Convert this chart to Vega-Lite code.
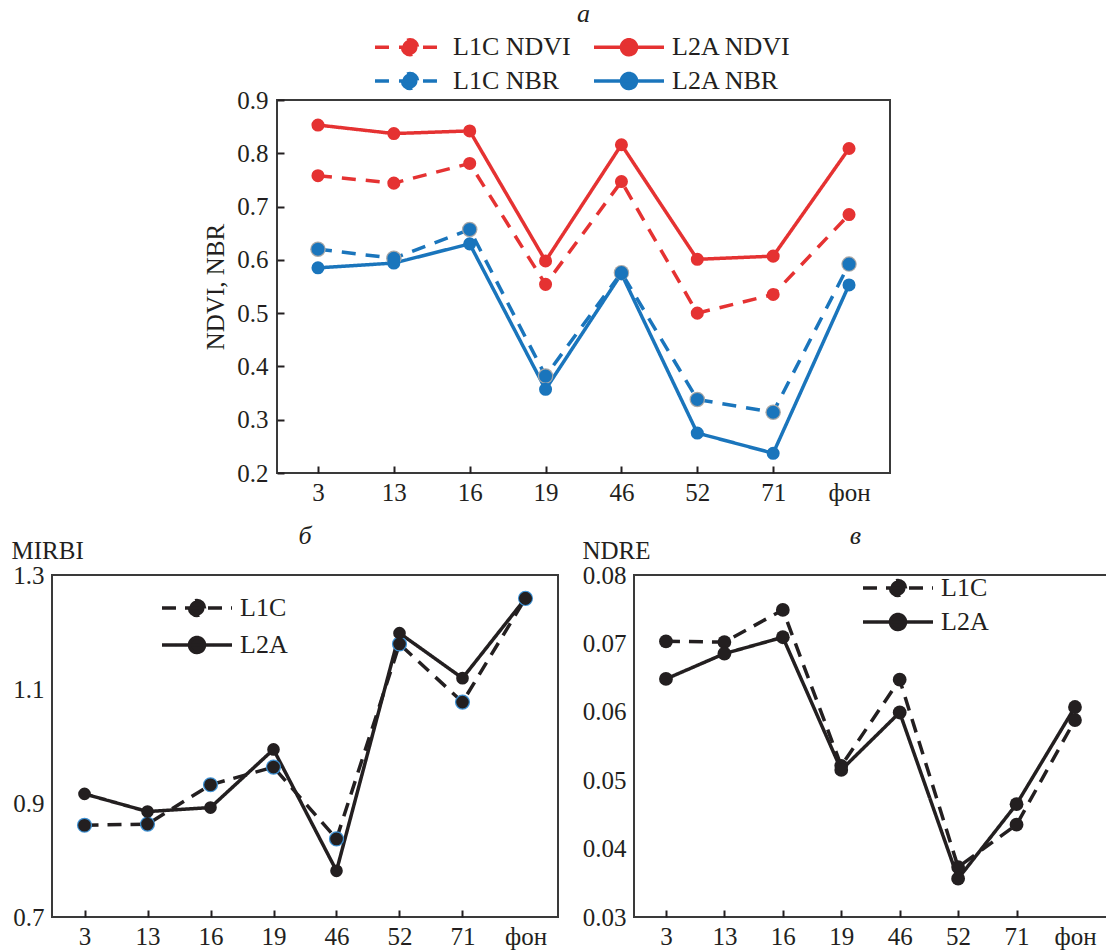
{
  "$schema": "https://vega.github.io/schema/vega-lite/v6.json",
  "padding": {"left": 10, "top": 0, "right": 0, "bottom": 0},
  "background": "white",
  "center": true,
  "spacing": 16,
  "resolve": {
    "scale": {"stroke": "independent", "fill": "independent", "strokeDash": "independent"},
    "legend": {"stroke": "independent", "fill": "independent", "strokeDash": "independent"}
  },
  "datasets": {
    "a": [
      {"site": "3", "series": "L1C NDVI", "v": 0.758}, {"site": "13", "series": "L1C NDVI", "v": 0.744}, {"site": "16", "series": "L1C NDVI", "v": 0.781}, {"site": "19", "series": "L1C NDVI", "v": 0.554}, {"site": "46", "series": "L1C NDVI", "v": 0.747}, {"site": "52", "series": "L1C NDVI", "v": 0.5}, {"site": "71", "series": "L1C NDVI", "v": 0.535}, {"site": "фон", "series": "L1C NDVI", "v": 0.685},
      {"site": "3", "series": "L1C NBR", "v": 0.62}, {"site": "13", "series": "L1C NBR", "v": 0.603}, {"site": "16", "series": "L1C NBR", "v": 0.657}, {"site": "19", "series": "L1C NBR", "v": 0.382}, {"site": "46", "series": "L1C NBR", "v": 0.576}, {"site": "52", "series": "L1C NBR", "v": 0.338}, {"site": "71", "series": "L1C NBR", "v": 0.314}, {"site": "фон", "series": "L1C NBR", "v": 0.592},
      {"site": "3", "series": "L2A NDVI", "v": 0.853}, {"site": "13", "series": "L2A NDVI", "v": 0.837}, {"site": "16", "series": "L2A NDVI", "v": 0.842}, {"site": "19", "series": "L2A NDVI", "v": 0.598}, {"site": "46", "series": "L2A NDVI", "v": 0.816}, {"site": "52", "series": "L2A NDVI", "v": 0.601}, {"site": "71", "series": "L2A NDVI", "v": 0.607}, {"site": "фон", "series": "L2A NDVI", "v": 0.809},
      {"site": "3", "series": "L2A NBR", "v": 0.585}, {"site": "13", "series": "L2A NBR", "v": 0.594}, {"site": "16", "series": "L2A NBR", "v": 0.63}, {"site": "19", "series": "L2A NBR", "v": 0.357}, {"site": "46", "series": "L2A NBR", "v": 0.574}, {"site": "52", "series": "L2A NBR", "v": 0.275}, {"site": "71", "series": "L2A NBR", "v": 0.237}, {"site": "фон", "series": "L2A NBR", "v": 0.553}
    ],
    "b": [
      {"site": "3", "series": "L1C", "v": 0.861}, {"site": "13", "series": "L1C", "v": 0.863}, {"site": "16", "series": "L1C", "v": 0.932}, {"site": "19", "series": "L1C", "v": 0.963}, {"site": "46", "series": "L1C", "v": 0.837}, {"site": "52", "series": "L1C", "v": 1.179}, {"site": "71", "series": "L1C", "v": 1.077}, {"site": "фон", "series": "L1C", "v": 1.259},
      {"site": "3", "series": "L2A", "v": 0.916}, {"site": "13", "series": "L2A", "v": 0.885}, {"site": "16", "series": "L2A", "v": 0.892}, {"site": "19", "series": "L2A", "v": 0.994}, {"site": "46", "series": "L2A", "v": 0.781}, {"site": "52", "series": "L2A", "v": 1.198}, {"site": "71", "series": "L2A", "v": 1.119}, {"site": "фон", "series": "L2A", "v": 1.259}
    ],
    "c": [
      {"site": "3", "series": "L1C", "v": 0.0703}, {"site": "13", "series": "L1C", "v": 0.0702}, {"site": "16", "series": "L1C", "v": 0.0749}, {"site": "19", "series": "L1C", "v": 0.0521}, {"site": "46", "series": "L1C", "v": 0.0647}, {"site": "52", "series": "L1C", "v": 0.0373}, {"site": "71", "series": "L1C", "v": 0.0435}, {"site": "фон", "series": "L1C", "v": 0.0588},
      {"site": "3", "series": "L2A", "v": 0.0648}, {"site": "13", "series": "L2A", "v": 0.0685}, {"site": "16", "series": "L2A", "v": 0.0709}, {"site": "19", "series": "L2A", "v": 0.0515}, {"site": "46", "series": "L2A", "v": 0.0599}, {"site": "52", "series": "L2A", "v": 0.0356}, {"site": "71", "series": "L2A", "v": 0.0465}, {"site": "фон", "series": "L2A", "v": 0.0607}
    ]
  },
  "vconcat": [
    {
      "width": 613,
      "height": 373,
      "data": {"name": "a"},
      "title": {"text": "а", "fontStyle": "italic", "fontSize": 26, "fontWeight": "normal", "font": "Liberation Serif", "color": "#231f20", "offset": 7},
      "encoding": {
        "x": {"field": "site", "type": "nominal", "scale": {"type": "point", "domain": ["3", "13", "16", "19", "46", "52", "71", "фон"], "padding": 0.54},
          "axis": {"title": null, "labelAngle": 0, "ticks": true, "tickSize": -7, "labelPadding": 14, "tickOpacity": {"condition": {"test": "datum.value === 'фон'", "value": 0}, "value": 1}}},
        "y": {"field": "v", "type": "quantitative", "scale": {"domain": [0.2, 0.9], "nice": false, "zero": false},
          "axis": {"title": "NDVI, NBR", "values": [0.2, 0.3, 0.4, 0.5, 0.6, 0.7, 0.8, 0.9], "format": ".1f", "ticks": true, "tickSize": -7, "labelPadding": 16, "titlePadding": 8}}
      },
      "layer": [
        {
          "mark": {"type": "line", "strokeWidth": 3.5},
          "encoding": {
            "stroke": {"field": "series", "type": "nominal", "scale": {"domain": ["L1C NDVI", "L1C NBR", "L2A NDVI", "L2A NBR"], "range": ["#e53232", "#1a75bc", "#e53232", "#1a75bc"]},
              "legend": {"title": null, "orient": "none", "legendX": 120, "legendY": -66, "columns": 2, "padding": 0, "symbolType": "M-4.67,0H4.67M-1,0A1,1,0,1,0,1,0A1,1,0,1,0,-1,0Z", "symbolSize": 225, "symbolStrokeWidth": 3.5, "labelOffset": 30, "columnPadding": 15, "rowPadding": 4, "labelFontSize": 26}},
            "strokeDash": {"field": "series", "type": "nominal", "scale": {"domain": ["L1C NDVI", "L1C NBR", "L2A NDVI", "L2A NBR"], "range": [[14, 10], [14, 10], [1, 0], [1, 0]]},
              "legend": {"title": null, "orient": "none", "legendX": 120, "legendY": -66, "columns": 2, "padding": 0, "symbolType": "M-4.67,0H4.67M-1,0A1,1,0,1,0,1,0A1,1,0,1,0,-1,0Z", "symbolSize": 225, "symbolStrokeWidth": 3.5, "labelOffset": 30, "columnPadding": 15, "rowPadding": 4, "labelFontSize": 26}}
          }
        },
        {
          "transform": [{"filter": "datum.series === 'L1C NBR'"}],
          "mark": {"type": "point", "filled": true, "size": 240, "opacity": 1, "color": "#a8a8a8"}
        },
        {
          "mark": {"type": "point", "filled": true, "size": 170, "opacity": 1},
          "encoding": {
            "fill": {"field": "series", "type": "nominal", "scale": {"domain": ["L1C NDVI", "L1C NBR", "L2A NDVI", "L2A NBR"], "range": ["#e53232", "#1a75bc", "#e53232", "#1a75bc"]},
              "legend": {"title": null, "orient": "none", "legendX": 120, "legendY": -66, "columns": 2, "padding": 0, "symbolType": "M-4.67,0H4.67M-1,0A1,1,0,1,0,1,0A1,1,0,1,0,-1,0Z", "symbolSize": 225, "symbolStrokeWidth": 3.5, "labelOffset": 30, "columnPadding": 15, "rowPadding": 4, "labelFontSize": 26}}
          }
        }
      ]
    },
    {
      "spacing": 22,
      "resolve": {
        "scale": {"stroke": "independent", "fill": "independent", "strokeDash": "independent"},
        "legend": {"stroke": "independent", "fill": "independent", "strokeDash": "independent"}
      },
      "hconcat": [
        {
          "width": 506,
          "height": 342,
          "data": {"name": "b"},
          "title": {"text": "б", "fontStyle": "italic", "fontSize": 26, "fontWeight": "normal", "font": "Liberation Serif", "color": "#231f20", "offset": -11},
          "encoding": {
            "x": {"field": "site", "type": "nominal", "scale": {"type": "point", "domain": ["3", "13", "16", "19", "46", "52", "71", "фон"], "padding": 0.516},
              "axis": {"title": null, "labelAngle": 0, "ticks": true, "tickSize": -7, "labelPadding": 14, "tickOpacity": {"condition": {"test": "datum.value === 'фон'", "value": 0}, "value": 1}}},
            "y": {"field": "v", "type": "quantitative", "scale": {"domain": [0.7, 1.3], "nice": false, "zero": false},
              "axis": {"title": "MIRBI", "values": [0.7, 0.9, 1.1, 1.3], "format": ".1f", "ticks": false, "labelPadding": 8, "titleAngle": 0, "titleX": -41, "titleY": -17, "titleAlign": "left", "titleBaseline": "alphabetic"}}
          },
          "layer": [
            {
              "mark": {"type": "line", "strokeWidth": 3.5},
              "encoding": {
                "stroke": {"field": "series", "type": "nominal", "scale": {"domain": ["L1C", "L2A"], "range": ["#231f20", "#231f20"]},
                  "legend": {"title": null, "orient": "none", "legendX": 132, "legendY": 20, "padding": 0, "symbolType": "M-4.67,0H4.67M-1,0A1,1,0,1,0,1,0A1,1,0,1,0,-1,0Z", "symbolSize": 225, "symbolStrokeWidth": 3.5, "labelOffset": 30, "rowPadding": 7, "labelFontSize": 26}},
                "strokeDash": {"field": "series", "type": "nominal", "scale": {"domain": ["L1C", "L2A"], "range": [[14, 9], [1, 0]]},
                  "legend": {"title": null, "orient": "none", "legendX": 132, "legendY": 20, "padding": 0, "symbolType": "M-4.67,0H4.67M-1,0A1,1,0,1,0,1,0A1,1,0,1,0,-1,0Z", "symbolSize": 225, "symbolStrokeWidth": 3.5, "labelOffset": 30, "rowPadding": 7, "labelFontSize": 26}}
              }
            },
            {
              "transform": [{"filter": "datum.series === 'L1C'"}],
              "mark": {"type": "point", "filled": true, "size": 230, "opacity": 1, "color": "#3d8fd1"}
            },
            {
              "mark": {"type": "point", "filled": true, "size": 160, "opacity": 1},
              "encoding": {
                "fill": {"field": "series", "type": "nominal", "scale": {"domain": ["L1C", "L2A"], "range": ["#231f20", "#231f20"]},
                  "legend": {"title": null, "orient": "none", "legendX": 132, "legendY": 20, "padding": 0, "symbolType": "M-4.67,0H4.67M-1,0A1,1,0,1,0,1,0A1,1,0,1,0,-1,0Z", "symbolSize": 225, "symbolStrokeWidth": 3.5, "labelOffset": 30, "rowPadding": 7, "labelFontSize": 26}}
              }
            }
          ]
        },
        {
          "width": 481,
          "height": 342,
          "data": {"name": "c"},
          "title": {"text": "в", "fontStyle": "italic", "fontSize": 26, "fontWeight": "normal", "font": "Liberation Serif", "color": "#231f20", "offset": -11, "dx": -19},
          "encoding": {
            "x": {"field": "site", "type": "nominal", "scale": {"type": "point", "domain": ["3", "13", "16", "19", "46", "52", "71", "фон"], "padding": 0.616, "align": 0.444},
              "axis": {"title": null, "labelAngle": 0, "ticks": true, "tickSize": -7, "labelPadding": 14, "tickOpacity": {"condition": {"test": "datum.value === 'фон'", "value": 0}, "value": 1}}},
            "y": {"field": "v", "type": "quantitative", "scale": {"domain": [0.03, 0.08], "nice": false, "zero": false},
              "axis": {"title": "NDRE", "values": [0.03, 0.04, 0.05, 0.06, 0.07, 0.08], "format": ".2f", "ticks": false, "labelPadding": 8, "titleAngle": 0, "titleX": -52, "titleY": -17, "titleAlign": "left", "titleBaseline": "alphabetic"}}
          },
          "layer": [
            {
              "mark": {"type": "line", "strokeWidth": 3.5},
              "encoding": {
                "stroke": {"field": "series", "type": "nominal", "scale": {"domain": ["L1C", "L2A"], "range": ["#231f20", "#231f20"]},
                  "legend": {"title": null, "orient": "none", "legendX": 251, "legendY": 0, "padding": 0, "symbolType": "M-4.67,0H4.67M-1,0A1,1,0,1,0,1,0A1,1,0,1,0,-1,0Z", "symbolSize": 225, "symbolStrokeWidth": 3.5, "labelOffset": 30, "rowPadding": 4, "labelFontSize": 26}},
                "strokeDash": {"field": "series", "type": "nominal", "scale": {"domain": ["L1C", "L2A"], "range": [[14, 9], [1, 0]]},
                  "legend": {"title": null, "orient": "none", "legendX": 251, "legendY": 0, "padding": 0, "symbolType": "M-4.67,0H4.67M-1,0A1,1,0,1,0,1,0A1,1,0,1,0,-1,0Z", "symbolSize": 225, "symbolStrokeWidth": 3.5, "labelOffset": 30, "rowPadding": 4, "labelFontSize": 26}}
              }
            },
            {
              "mark": {"type": "point", "filled": true, "size": 190, "opacity": 1},
              "encoding": {
                "fill": {"field": "series", "type": "nominal", "scale": {"domain": ["L1C", "L2A"], "range": ["#231f20", "#231f20"]},
                  "legend": {"title": null, "orient": "none", "legendX": 251, "legendY": 0, "padding": 0, "symbolType": "M-4.67,0H4.67M-1,0A1,1,0,1,0,1,0A1,1,0,1,0,-1,0Z", "symbolSize": 225, "symbolStrokeWidth": 3.5, "labelOffset": 30, "rowPadding": 4, "labelFontSize": 26}}
              }
            }
          ]
        }
      ]
    }
  ],
  "config": {
    "font": "Liberation Serif",
    "view": {"stroke": "#3a3a3a", "strokeWidth": 2},
    "axis": {"domain": false, "grid": false, "labelFont": "Liberation Serif", "labelFontSize": 25, "labelColor": "#231f20", "tickColor": "#231f20", "tickWidth": 2, "titleFont": "Liberation Serif", "titleFontSize": 25, "titleFontWeight": "normal", "titleColor": "#231f20"},
    "legend": {"labelFont": "Liberation Serif", "labelColor": "#231f20", "labelFontSize": 26}
  }
}
